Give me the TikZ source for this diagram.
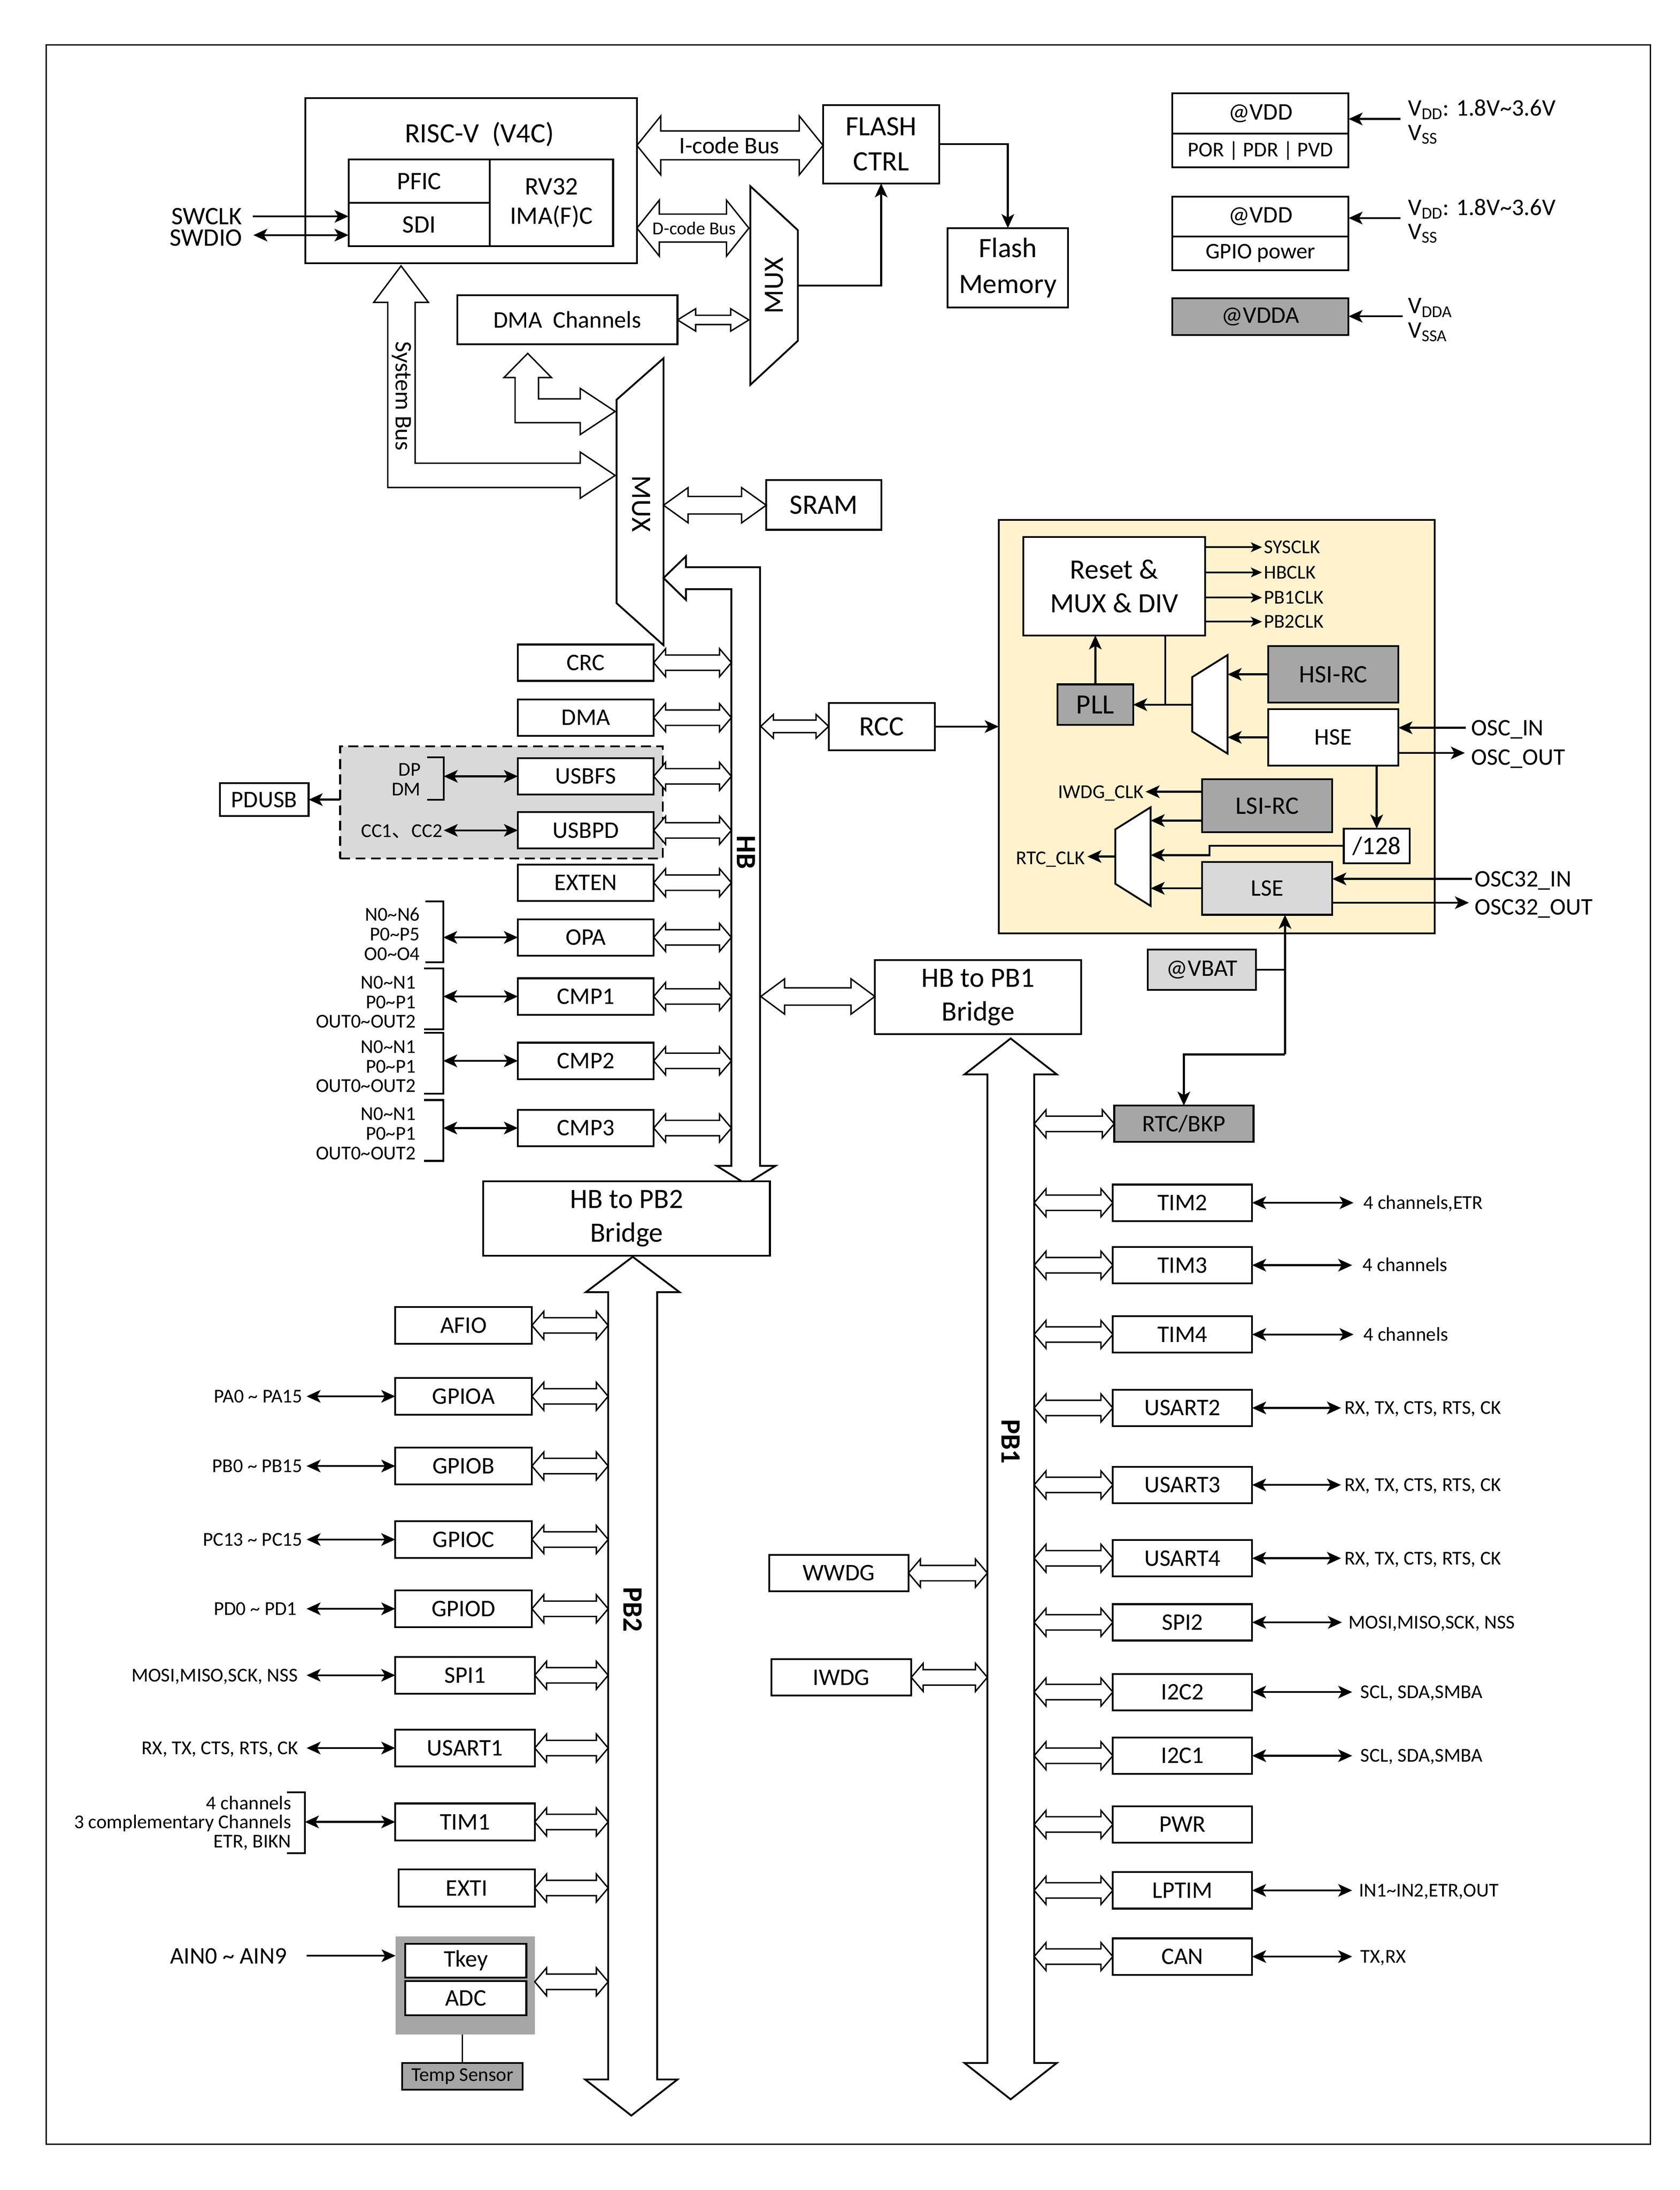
\documentclass[tikz,border=0pt]{standalone}
\usepackage{fontspec}
\setmainfont{Carlito}
\newfontfamily\cjkf{Noto Sans CJK SC}
\usetikzlibrary{arrows.meta}
\definecolor{dgray}{HTML}{A6A6A6}
\definecolor{lgray}{HTML}{D9D9D9}
\definecolor{usbg}{HTML}{D9D9D9}
\definecolor{ygold}{HTML}{FFF2CC}
\newcommand\fsz[2]{\fontsize{#1}{#2}\selectfont}
\newcommand\bx[7]{%
  \pgfmathsetmacro\bxw{(#4)-(#2)}\pgfmathsetmacro\bxh{(#5)-(#3)}%
  \pgfmathsetmacro\bxcx{((#2)+(#4))/2}\pgfmathsetmacro\bxcy{((#3)+(#5))/2}%
  \node[#6, minimum width=\bxw pt, minimum height=\bxh pt] (#1) at (\bxcx,\bxcy) {#7};}
\newcommand\hdarr[6]{%
  \draw[hol] (#1,#3) -- ({(#1)+(#4)},{(#3)-(#5)}) -- ({(#1)+(#4)},{(#3)-(#6)}) -- ({(#2)-(#4)},{(#3)-(#6)}) -- ({(#2)-(#4)},{(#3)-(#5)}) -- (#2,#3) -- ({(#2)-(#4)},{(#3)+(#5)}) -- ({(#2)-(#4)},{(#3)+(#6)}) -- ({(#1)+(#4)},{(#3)+(#6)}) -- ({(#1)+(#4)},{(#3)+(#5)}) -- cycle;}
\begin{document}
\begin{tikzpicture}[x=1pt,y=-1pt,
  box/.style={draw,line width=1.3pt,fill=white,inner sep=0pt,outer sep=0pt,align=center},
  dbox/.style={box,fill=dgray},
  lbox/.style={box,fill=lgray},
  hol/.style={draw,line width=1pt,fill=white,line join=miter},
  bus/.style={draw,line width=1.3pt,fill=white,line join=miter},
  ln/.style={line width=1.3pt},
  arr/.style={line width=1.4pt,-{Stealth[length=10pt,width=9pt,inset=2.5pt]}},
  darr/.style={line width=1.4pt,{Stealth[length=10pt,width=9pt,inset=2.5pt]}-{Stealth[length=10pt,width=9pt,inset=2.5pt]}},
  sarr/.style={line width=1.2pt,-{Stealth[length=8pt,width=7pt,inset=2pt]}},
  lbl/.style={inner sep=0pt,outer sep=0pt},
  F20/.style={font=\fsz{20}{24}},
  F18/.style={font=\fsz{18}{21}},
  F17/.style={font=\fsz{17}{20}},
  F16/.style={font=\fsz{16}{19}},
  F15/.style={font=\fsz{15}{18}},
  F14/.style={font=\fsz{14}{14}},
  F13/.style={font=\fsz{13}{14}},
  BL/.style={font=\bfseries\fsz{20}{20}}]
\useasboundingbox (0,0) rectangle (1200,1564.8);
\fill[white] (0,0) rectangle (1200,1564.8);
\draw[line width=1pt] (33,32) rectangle (1179,1532);

% ---------------- CPU ----------------
\bx{cpu}{218}{70}{455}{188}{box}{}
\node[lbl,F20] (cputitle) at (342.5,96) {RISC-V\ \ (V4C)};
\bx{pfic}{249}{114}{350}{145}{box,F18}{PFIC}
\bx{sdi}{249}{145}{350}{176}{box,F18}{SDI}
\bx{rv}{350}{114}{438}{176}{box,F18}{RV32\\IMA(F)C}
\node[lbl,F18,anchor=east] (swclk) at (173,154.6) {SWCLK};
\node[lbl,F18,anchor=east] (swdio) at (173,170) {SWDIO};
\coordinate (swclkS) at (180.5,154.6);
\draw[arr] (swclkS) -- (swclkS -| sdi.west);
\coordinate (swdioS) at (181,168);
\draw[darr] (swdioS) -- (swdioS -| sdi.west);

% I-code / FLASH
\hdarr{455}{588}{103.9}{17}{21}{10.3}
\node[lbl,F17] (icode) at (521,104) {I-code Bus};
\bx{fctrl}{588}{75}{671}{131}{box,font=\fsz{20}{25}}{FLASH\\CTRL}
\bx{fmem}{677}{163}{763}{219.7}{box,font=\fsz{20}{25.5}}{Flash\\Memory}
\draw[arr] (fctrl.east) -| (fmem.north);

% D-code / MUX1
\hdarr{455}{535}{163}{16}{20}{10}
\node[lbl,F13] (dcode) at (496,163) {D-code Bus};
\draw[ln,fill=white] (536,133) -- (570,164.5) -- (570,243.5) -- (536,275) -- cycle;
\node[lbl,F20,rotate=90] (mux1) at (553,204) {MUX};
\coordinate (mux1out) at (570,204);
\draw[arr] (mux1out) -| (fctrl.south);

% DMA channels
\bx{dmach}{326.6}{211}{484}{246}{box,F17}{DMA\ \ Channels}
\hdarr{484}{535}{228.6}{13}{8}{3.3}

% MUX2
\draw[ln,fill=white] (440.5,285.6) -- (474,256) -- (474,461) -- (440.5,431) -- cycle;
\node[lbl,F20,rotate=-90] (mux2) at (458,360) {MUX};

% System bus
\draw[hol] (286.5,190) -- (306,216) -- (296.6,216) -- (296.6,331) -- (414.5,331) -- (414.5,323) -- (439.5,339.7) -- (414.5,356) -- (414.5,348.3) -- (277,348.3) -- (277,216) -- (267,216) -- cycle;
\node[lbl,F17,rotate=-90] (sysbus) at (287,283) {System Bus};
% DMA to MUX2
\draw[hol] (377,252.5) -- (394,269.8) -- (384.7,269.8) -- (384.7,285) -- (414.5,285) -- (414.5,277.5) -- (439.5,294) -- (414.5,310.5) -- (414.5,302) -- (368,302) -- (368,269.8) -- (360,269.8) -- cycle;

% SRAM
\bx{sram}{547.4}{343}{629.7}{378.5}{box,F20}{SRAM}
\hdarr{474}{547.4}{361}{17.6}{12.6}{6.3}

% ---------------- HB bus ----------------
\draw[bus] (474,413) -- (490,397.5) -- (490,405.3) -- (543,405.3) -- (543,833) -- (554,833) -- (533,846) -- (512,833) -- (522.5,833) -- (522.5,421) -- (490,421) -- (490,428.6) -- cycle;
\node[lbl,BL,rotate=-90] (hblbl) at (533,609) {HB};

\bx{usbarea}{243}{533.3}{473.4}{613.4}{draw,dash pattern=on 7pt off 4pt,line width=1.3pt,fill=usbg,inner sep=0pt,outer sep=0pt}{}
\bx{pdusb}{157}{559.7}{220.5}{583}{box,F17}{PDUSB}
\draw[arr] (usbarea.west |- pdusb.east) -- (pdusb.east);

\foreach \nm/\tx/\yc in {crc/CRC/473.5,hdma/DMA/512.8,usbfs/USBFS/554.7,usbpd/USBPD/593.3,exten/EXTEN/630.7,opa/OPA/669.8,cmp1/CMP1/712,cmp2/CMP2/758,cmp3/CMP3/806}{
  \bx{\nm}{370}{\yc-13}{467}{\yc+13}{box,F17}{\tx}
  \hdarr{467}{522.5}{\yc}{8.5}{10}{5.5}
}

\node[lbl,F14,anchor=east,align=right] (dpdm) at (300.5,557) {DP\\DM};
\draw[ln] (305,541) -- (317,541) -- (317,571.4) -- (305,571.4);
\coordinate (dpb) at (317,554.7);
\draw[darr] (dpb) -- (usbfs.west);
\node[lbl,F14,anchor=east] (cc) at (316,594) {CC1{\cjkf 、}CC2};
\coordinate (ccb) at (317,593.3);
\draw[darr] (ccb) -- (usbpd.west);

\node[lbl,F14,anchor=east,align=right] (opal) at (300,667.4) {N0\textasciitilde N6\\P0\textasciitilde P5\\O0\textasciitilde O4};
\draw[ln] (304,644) -- (316.6,644) -- (316.6,687.5) -- (304,687.5);
\coordinate (opab) at (316.6,669.8);
\draw[darr] (opab) -- (opa.west);
\foreach \nm/\yc in {cmp1/712,cmp2/758,cmp3/806}{
  \node[lbl,F14,anchor=east,align=right] (\nm l) at (297,{\yc+4}) {N0\textasciitilde N1\\P0\textasciitilde P1\\OUT0\textasciitilde OUT2};
  \draw[ln] (303,{\yc-20}) -- (316.6,{\yc-20}) -- (316.6,{\yc+23.5}) -- (303,{\yc+23.5});
  \coordinate (\nm b) at (316.6,\yc);
  \draw[darr] (\nm b) -- (\nm.west);
}

% RCC
\bx{rcc}{592}{502.3}{667.8}{536}{box,F20}{RCC}
\hdarr{543.5}{592}{519}{9}{8.5}{4.5}

% ---------------- clock block ----------------
\bx{yel}{713.5}{371.5}{1025}{667}{draw,line width=1.3pt,fill=ygold,inner sep=0pt,outer sep=0pt}{}
\draw[arr] (rcc.east) -- (rcc.east -| yel.west);
\bx{rst}{731}{383.6}{861}{454}{box,font=\fsz{20}{24}}{Reset \&\\MUX \& DIV}
\foreach \tx/\yc in {SYSCLK/391,HBCLK/409,PB1CLK/427,PB2CLK/444.2}{
  \coordinate (c\tx) at (861,\yc);
  \draw[sarr] (c\tx) -- (901.6,\yc);
  \node[lbl,F14,anchor=base west] (l\tx) at (903,{\yc+4.5}) {\tx};
}
\bx{pll}{755.5}{489}{809.5}{518}{dbox,F20}{PLL}
\draw[arr] (pll.north) -- (pll.north |- rst.south);
\draw[ln] (832.4,454) -- (832.4,503.5);
\draw[ln,fill=white] (851.7,483.8) -- (877,468) -- (877,538.5) -- (851.7,522.7) -- cycle;
\coordinate (cmux1) at (851.7,503.5);
\draw[arr] (cmux1) -- (pll.east);
\bx{hsi}{906}{461.7}{999}{502}{dbox,F18}{HSI-RC}
\draw[arr] (hsi.west) -- ++(-29,0);
\bx{hse}{906}{506.7}{999}{547}{box,F17}{HSE}
\draw[arr] (hse.west) -- ++(-29,0);
\node[lbl,F17,anchor=base west] (oscin) at (1051,525.5) {OSC\_IN};
\node[lbl,F17,anchor=base west] (oscout) at (1051,546.5) {OSC\_OUT};
\coordinate (oscinS) at (1047,520);
\draw[arr] (oscinS) -- (oscinS -| hse.east);
\coordinate (oscoutS) at (999,538);
\draw[arr] (oscoutS) -- (1046.5,538);
\bx{d128}{960}{592}{1007}{616.8}{box,F18}{/128}
\draw[arr] (d128.north |- hse.south) -- (d128.north);
\bx{lsi}{858.8}{556.8}{951.8}{594.7}{dbox,F18}{LSI-RC}
\node[lbl,F14,anchor=base west,anchor=base east] (iwdgclk) at (817,570.5) {IWDG\_CLK};
\coordinate (lsiA) at (858.8,565.7);
\draw[arr] (lsiA) -- (818.4,565.7);
\draw[ln,fill=white] (796.8,592.6) -- (822,576.8) -- (822,647.3) -- (796.8,631.5) -- cycle;
\coordinate (lsiB) at (858.8,586.3);
\draw[arr] (lsiB) -- (822,586.3);
\draw[arr] (d128.west) -- (864,604.4) -- (864,611) -- (822,611);
\bx{lse}{858.8}{615.8}{951.8}{653.6}{lbox,F17}{LSE}
\draw[arr] (lse.west) -- ++(-36.8,0);
\coordinate (cmux2) at (796.8,612);
\draw[arr] (cmux2) -- (776.8,612);
\node[lbl,F14,anchor=base east] (rtcclk) at (775,617.5) {RTC\_CLK};
\coordinate (o32i) at (1051.4,628);
\draw[arr] (o32i) -- (o32i -| lse.east);
\coordinate (o32o) at (951.8,645);
\draw[arr] (o32o) -- (1049.4,645);
\node[lbl,F17,anchor=base west] (osc32in) at (1053.7,633.5) {OSC32\_IN};
\node[lbl,F17,anchor=base west] (osc32out) at (1053.7,653.5) {OSC32\_OUT};

% VBAT / RTC
\bx{vbat}{820}{678.4}{897.3}{707.4}{lbox,F17}{@VBAT}
\bx{rtc}{796}{790}{895.5}{816}{dbox,F17}{RTC/BKP}
\coordinate (vj) at (918,753.4);
\draw[arr] (vj) -- (vj |- lse.south);
\draw[ln] (vbat.east) -- (vbat.east -| vj);
\draw[arr] (vj) -| (rtc.north);

% ---------------- PB1 ----------------
\bx{hbpb1}{625}{686}{772.5}{739}{box,font=\fsz{20}{24}}{HB to PB1\\Bridge}
\hdarr{543.5}{625}{712}{17}{12.6}{6.2}
\draw[bus] (722,742) -- (755,767.7) -- (738.8,767.7) -- (738.8,1474) -- (755,1474) -- (722,1500) -- (689,1474) -- (705.4,1474) -- (705.4,767.7) -- (689,767.7) -- cycle;
\node[lbl,BL,rotate=-90] (pb1lbl) at (722,1030) {PB1};
\hdarr{738.8}{796}{803}{8.5}{10}{5.5}
\foreach \nm/\tx/\yc/\sig/\xe/\xl in {tim2/TIM2/859.4/{4 channels,ETR}/967/974,
  tim3/TIM3/904/{4 channels}/966/973.5,
  tim4/TIM4/953.5/{4 channels}/967/974,
  usart2/USART2/1006/{RX, TX, CTS, RTS, CK}/958/960.6,
  usart3/USART3/1061/{RX, TX, CTS, RTS, CK}/958/960.6,
  usart4/USART4/1113.4/{RX, TX, CTS, RTS, CK}/958/960.6,
  spi2/SPI2/1159.2/{MOSI,MISO,SCK, NSS}/958.7/963.5,
  itwo2/I2C2/1209/{SCL, SDA,SMBA}/966/972,
  itwo1/I2C1/1254.5/{SCL, SDA,SMBA}/966/972,
  lptim/LPTIM/1350.7/{IN1\textasciitilde IN2,ETR,OUT}/966/971,
  can/CAN/1398/{TX,RX}/966/972}{
  \bx{\nm}{795}{\yc-13}{894.5}{\yc+13}{box,F17}{\tx}
  \hdarr{738.8}{795}{\yc}{8.5}{10}{5.5}
  \node[lbl,F14,anchor=base west] (\nm l) at (\xl,{\yc+4.5}) {\sig};
  \coordinate (\nm e) at (\xe,\yc);
  \draw[darr] (\nm.east) -- (\nm e);
}
\bx{pwr}{795}{1290.6}{894.5}{1316.6}{box,F17}{PWR}
\hdarr{738.8}{795}{1303.6}{8.5}{10}{5.5}
\bx{wwdg}{549.5}{1111}{649}{1137}{box,F17}{WWDG}
\hdarr{649}{705.4}{1124}{8.5}{10}{5.5}
\bx{iwdg}{551}{1185.5}{651}{1211.5}{box,F17}{IWDG}
\hdarr{651}{705.4}{1198.5}{8.5}{10}{5.5}

% ---------------- PB2 ----------------
\draw[bus] (452,898) -- (485.5,923.3) -- (469.5,923.3) -- (469.5,1485.8) -- (484,1485.8) -- (451,1511.6) -- (418,1485.8) -- (434.5,1485.8) -- (434.5,923.3) -- (418.5,923.3) -- cycle;
\bx{hbpb2}{345.3}{844}{550}{897.3}{box,font=\fsz{20}{24}}{HB to PB2\\Bridge}
\node[lbl,BL,rotate=-90] (pb2lbl) at (452,1150) {PB2};
\foreach \nm/\tx/\yc/\xr in {afio/AFIO/947/380,gpioa/GPIOA/997.7/380,gpiob/GPIOB/1047.5/380,gpioc/GPIOC/1100/380,gpiod/GPIOD/1149.5/380,spione/SPI1/1197/382,usartone/USART1/1249/382,timone/TIM1/1301.8/382}{
  \bx{\nm}{282.4}{\yc-13.2}{\xr}{\yc+13.2}{box,F17}{\tx}
  \hdarr{\xr}{434.5}{\yc}{8.5}{10}{5.5}
}
\bx{exti}{284.8}{1335.8}{382}{1362.4}{box,F17}{EXTI}
\hdarr{382}{434.5}{1349}{8.5}{10}{5.5}
\foreach \nm/\sig/\xt/\yc in {gpioa/{PA0 \textasciitilde\ PA15}/216/997.7,
  gpiob/{PB0 \textasciitilde\ PB15}/216/1047.5,
  gpioc/{PC13 \textasciitilde\ PC15}/216/1100,
  gpiod/{PD0 \textasciitilde\ PD1}/212/1149.5,
  spione/{MOSI,MISO,SCK, NSS}/212.7/1197,
  usartone/{RX, TX, CTS, RTS, CK}/213/1249}{
  \node[lbl,F14,anchor=base east] (\nm l) at (\xt,{\yc+4.5}) {\sig};
  \coordinate (\nm s) at (219,\yc);
  \draw[darr] (\nm s) -- (\nm.west);
}
\node[lbl,font=\fsz{14}{13.6},anchor=east,align=right] (timonel) at (208,1302.5) {4 channels\\3 complementary Channels\\ETR, BIKN};
\draw[ln] (205,1280.7) -- (217.8,1280.7) -- (217.8,1324) -- (205,1324);
\coordinate (timoneb) at (217.8,1301.8);
\draw[darr] (timoneb) -- (timone.west);

% ADC group
\bx{adcg}{282.6}{1383.6}{382}{1453.8}{fill=dgray,inner sep=0pt,outer sep=0pt}{}
\bx{tkey}{289.6}{1388.8}{376}{1413}{box,F17}{Tkey}
\bx{adc}{289.6}{1415.6}{376}{1440}{box,F17}{ADC}
\hdarr{382}{434.5}{1416}{8.5}{10}{5.5}
\node[lbl,F17,anchor=base east] (ain) at (205,1403) {AIN0 \textasciitilde\ AIN9};
\coordinate (ainS) at (219,1397.4);
\draw[line width=1.2pt,-{Stealth[length=10pt,width=9pt,inset=2.5pt]}] (ainS) -- (ainS -| adcg.west);
\bx{temp}{287.4}{1474}{373.4}{1493}{dbox,F14}{Temp Sensor}
\draw[line width=1pt] (temp.north |- adcg.south) -- (temp.north);

% ---------------- power ----------------
\bx{vdd1}{837.6}{66.7}{963.4}{95.5}{box,F17}{@VDD}
\bx{por}{837.6}{95.5}{963.4}{119.6}{box,F15}{POR | PDR | PVD}
\coordinate (p1) at (1000.6,85);
\draw[arr] (p1) -- (p1 -| vdd1.east);
\node[lbl,F17,anchor=base west] (vdd1t) at (1006,82.8) {V\textsubscript{DD}: 1.8V\textasciitilde 3.6V};
\node[lbl,F17,anchor=base west] (vss1t) at (1006,100.2) {V\textsubscript{SS}};
\bx{vdd2}{837.6}{140.4}{963.4}{169}{box,F17}{@VDD}
\bx{gpiop}{837.6}{169}{963.4}{193}{box,F16}{GPIO power}
\coordinate (p2) at (1000.6,155.8);
\draw[arr] (p2) -- (p2 -| vdd2.east);
\node[lbl,F17,anchor=base west] (vdd2t) at (1006,153.8) {V\textsubscript{DD}: 1.8V\textasciitilde 3.6V};
\node[lbl,F17,anchor=base west] (vss2t) at (1006,171) {V\textsubscript{SS}};
\bx{vdda}{837.6}{213}{963.4}{239.4}{dbox,F17}{@VDDA}
\coordinate (p3) at (1002,226);
\draw[arr] (p3) -- (p3 -| vdda.east);
\node[lbl,F17,anchor=base west] (vddat) at (1006,224) {V\textsubscript{DDA}};
\node[lbl,F17,anchor=base west] (vssat) at (1006,241.5) {V\textsubscript{SSA}};
\end{tikzpicture}
\end{document}
